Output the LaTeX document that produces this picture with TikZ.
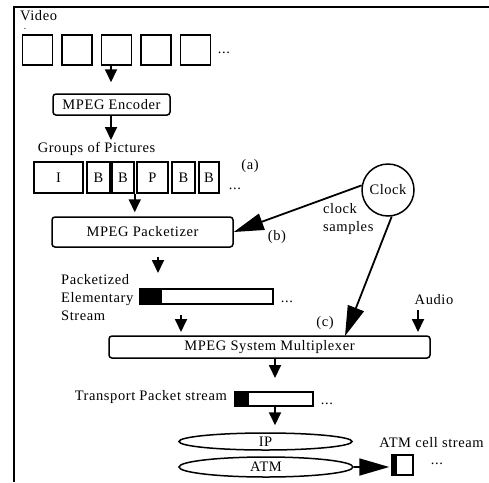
\documentclass[tikz,border=0pt]{standalone}
\usepackage{fontspec}
\setmainfont{Liberation Serif}[LetterSpace=4]
\usetikzlibrary{arrows.meta,shapes.geometric}
\newcommand{\myfs}{\fontsize{14.5pt}{18pt}\selectfont}
\begin{document}
\begin{tikzpicture}[x=1pt,y=-1pt,
  every node/.style={font=\myfs, inner sep=0pt},
  bx/.style={draw, line width=1.5pt},
  rbx/.style={draw, line width=1.5pt, rounded corners=3pt},
  ell/.style={draw, line width=1.5pt, ellipse},
  arr/.style={line width=1.8pt, -{Triangle[length=13pt,width=12pt]}},
  bigarr/.style={line width=1.8pt, -{Triangle[length=30pt,width=17pt]}}
]
\useasboundingbox (0,0) rectangle (489,482);
% frame
\draw[line width=1.8pt] (14,482) -- (14,7) -- (489,7);

% video
\node[anchor=west] (video) at (20,16) {Video};
\node (dash) at (25,30) {\fontsize{7pt}{7pt}\selectfont -};
\foreach \i/\x in {1/37.5,2/77,3/116.5,4/156,5/195.5}
  \node[bx, minimum width=30pt, minimum height=30pt] (v\i) at (\x,50) {};
\node (vdots) at (224,53) {...};

% encoder
\node[rbx, minimum width=117pt, minimum height=21pt] (enc) at (111.5,104.5) {MPEG Encoder};
\draw[arr, shorten >=11pt] (v3.south -| 111,0) -- (enc.north -| 111,0);

% GOP
\node (goplab) at (96.5,149) {Groups of Pictures};
\coordinate (a2) at (111,140);
\draw[arr] (enc.south -| 111,0) -- (a2);
\node[bx, minimum width=49pt, minimum height=31pt] (gI) at (58.5,177.5) {I};
\node[bx, minimum width=23pt, minimum height=31pt] (gB1) at (98.5,177.5) {B};
\node[bx, minimum width=22pt, minimum height=31pt] (gB2) at (123,177.5) {B};
\node[bx, minimum width=31pt, minimum height=31pt] (gP) at (152.5,177.5) {P};
\node[bx, minimum width=23pt, minimum height=31pt] (gB3) at (183.5,177.5) {B};
\node[bx, minimum width=20pt, minimum height=31pt] (gB4) at (209,177.5) {B};
\node (gdots) at (235,189) {...};
\node (la) at (250,166) {(a)};

% packetizer
\node[rbx, minimum width=181pt, minimum height=30pt] (pk) at (142.5,232) {MPEG Packetizer};
\draw[arr, shorten >=4pt] (gB2.south east) -- (gB2.south east |- pk.north);

% clock
\node[circle, draw, line width=1.5pt, minimum size=52pt] (clk) at (388,190) {Clock};
\draw[bigarr] (clk.170) -- (pk.east);
\node[align=left, anchor=west] (cs) at (323,219) {clock\\samples};
\node (lb) at (277,237) {(b)};

% PES
\node[align=left, anchor=west] (peslab) at (61,297.5) {Packetized\\Elementary\\Stream};
\node[bx, minimum width=133pt, minimum height=15pt] (pes) at (206.5,296.5) {};
\fill (pes.north west) rectangle ([xshift=23pt]pes.south west);
\node (pdots) at (287,302) {...};
\coordinate (p1) at (158,273);
\draw[arr, shorten <=9pt] (pk.south -| p1) -- (p1);

% multiplexer
\node[rbx, minimum width=321pt, minimum height=22pt] (mux) at (269.5,347) {MPEG System Multiplexer};
\coordinate (cin) at (345,336);
\draw[bigarr] (clk.278) -- (cin);
\node (lc) at (325,323) {(c)};
\node (audio) at (434,300) {Audio};
\coordinate (au) at (418,332);
\draw[arr, shorten <=5pt] (audio.south -| au) -- (au);
\coordinate (p2) at (181,332);
\draw[arr, shorten <=10pt] (pes.south -| p2) -- (p2);

% transport
\node[anchor=east] (tplab) at (227,397) {Transport Packet stream};
\node[bx, minimum width=78pt, minimum height=14pt] (tp) at (274,399) {};
\fill (tp.north west) rectangle ([xshift=15pt]tp.south west);
\node (tdots) at (327,404) {...};
\coordinate (p3) at (275,378);
\draw[arr] (mux.south -| p3) -- (p3);

% IP / ATM
\node[ell, minimum width=173pt, minimum height=17pt] (ip) at (265.5,441.5) {IP};
\node[ell, minimum width=174pt, minimum height=20pt] (atm) at (266,467) {ATM};
\draw[arr, shorten >=7pt] (tp.south -| p3) -- (ip.north -| p3);
\node (atmlab) at (431.5,443) {ATM cell stream};
\node[bx, minimum width=21pt, minimum height=20pt] (cell) at (402.5,465) {};
\fill (cell.north west) rectangle ([xshift=6pt]cell.south west);
\node (cdots) at (437,464) {...};
\draw[bigarr, shorten >=2pt] (atm.east) -- (cell.west |- atm.east);
\end{tikzpicture}
\end{document}
